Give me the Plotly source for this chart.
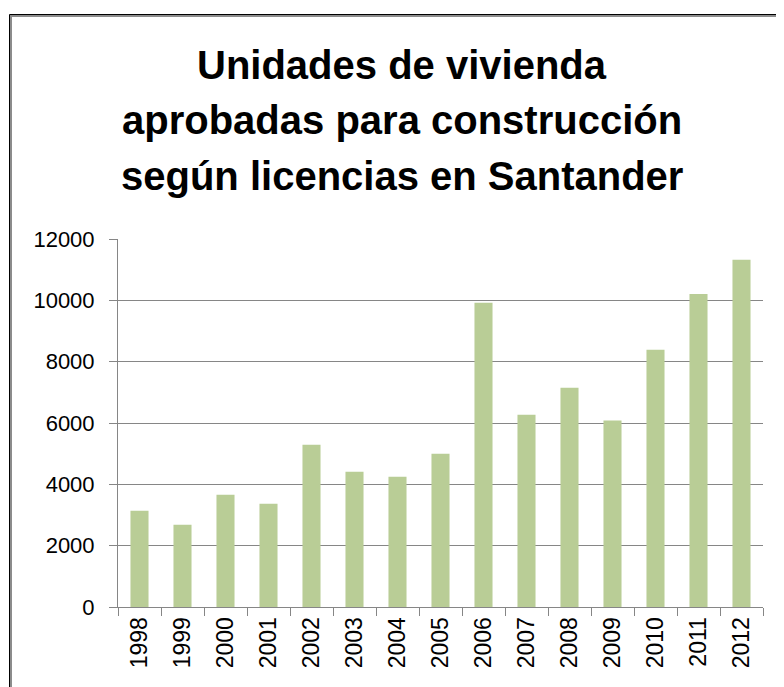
import plotly.graph_objects as go

years = ["1998", "1999", "2000", "2001", "2002", "2003", "2004", "2005",
         "2006", "2007", "2008", "2009", "2010", "2011", "2012"]
unidades = [3140, 2680, 3660, 3370, 5290, 4410, 4250, 5000,
            9920, 6270, 7150, 6080, 8390, 10210, 11320]
title_lines = ["Unidades de vivienda",
               "aprobadas para construcción",
               "según licencias en Santander"]
y_ticks = [0, 2000, 4000, 6000, 8000, 10000, 12000]
y_tick_text = ["0", "2000", "4000", "6000", "8000", "10000", "12000"]

# page body has an 8px margin: figure is sized/positioned to compensate
OFF = 8
W, H = 784 - OFF, 687 - OFF
L, R, T, B = 118 - OFF, 21, 239 - OFF, 80
pw, ph = W - L - R, H - T - B


def px_x(x):
    return (x - OFF - L) / pw


def px_y(y):
    return (H - B - (y - OFF)) / ph


fig = go.Figure(go.Bar(
    x=years, y=unidades,
    marker=dict(color="#B9CD96", line=dict(width=0)),
))

title_centers = [65, 120, 176]
for line, yc in zip(title_lines, title_centers):
    fig.add_annotation(
        text="<b>" + line + "</b>", x=px_x(402), xref="paper", y=px_y(yc), yref="paper",
        xanchor="center", yanchor="middle", showarrow=False,
        font=dict(family="Liberation Sans", size=40, color="#000000"),
    )

# outer frame (black outer line + gray inner line)
fig.add_shape(type="rect", xref="paper", yref="paper",
              x0=px_x(9.5), y0=-0.5, x1=1.5, y1=px_y(14.5),
              line=dict(color="#000000", width=1))
fig.add_shape(type="rect", xref="paper", yref="paper",
              x0=px_x(11), y0=-0.5, x1=1.5, y1=px_y(16),
              line=dict(color="#8C8C8C", width=2))

fig.update_layout(
    width=W, height=H,
    margin=dict(l=L, r=R, t=T, b=B),
    paper_bgcolor="white", plot_bgcolor="white",
    bargap=0.58, showlegend=False,
    font=dict(family="Liberation Sans", color="#000000"),
)
fig.update_xaxes(
    type="category", tickangle=-90, tickson="boundaries",
    ticks="outside", ticklen=8, tickcolor="#868686", tickwidth=1,
    showline=True, linecolor="#868686", linewidth=1,
    showgrid=False, tickfont=dict(size=23, color="#000000"),
)
fig.update_yaxes(
    range=[0, 12000], tickvals=y_ticks, ticktext=y_tick_text,
    ticks="outside", ticklen=8, tickcolor="#868686", tickwidth=1,
    showline=True, linecolor="#868686", linewidth=1,
    showgrid=True, gridcolor="#868686", gridwidth=1,
    zeroline=False, ticklabelstandoff=10,
    tickfont=dict(size=22, color="#000000"),
)

fig.write_html("out.html")
